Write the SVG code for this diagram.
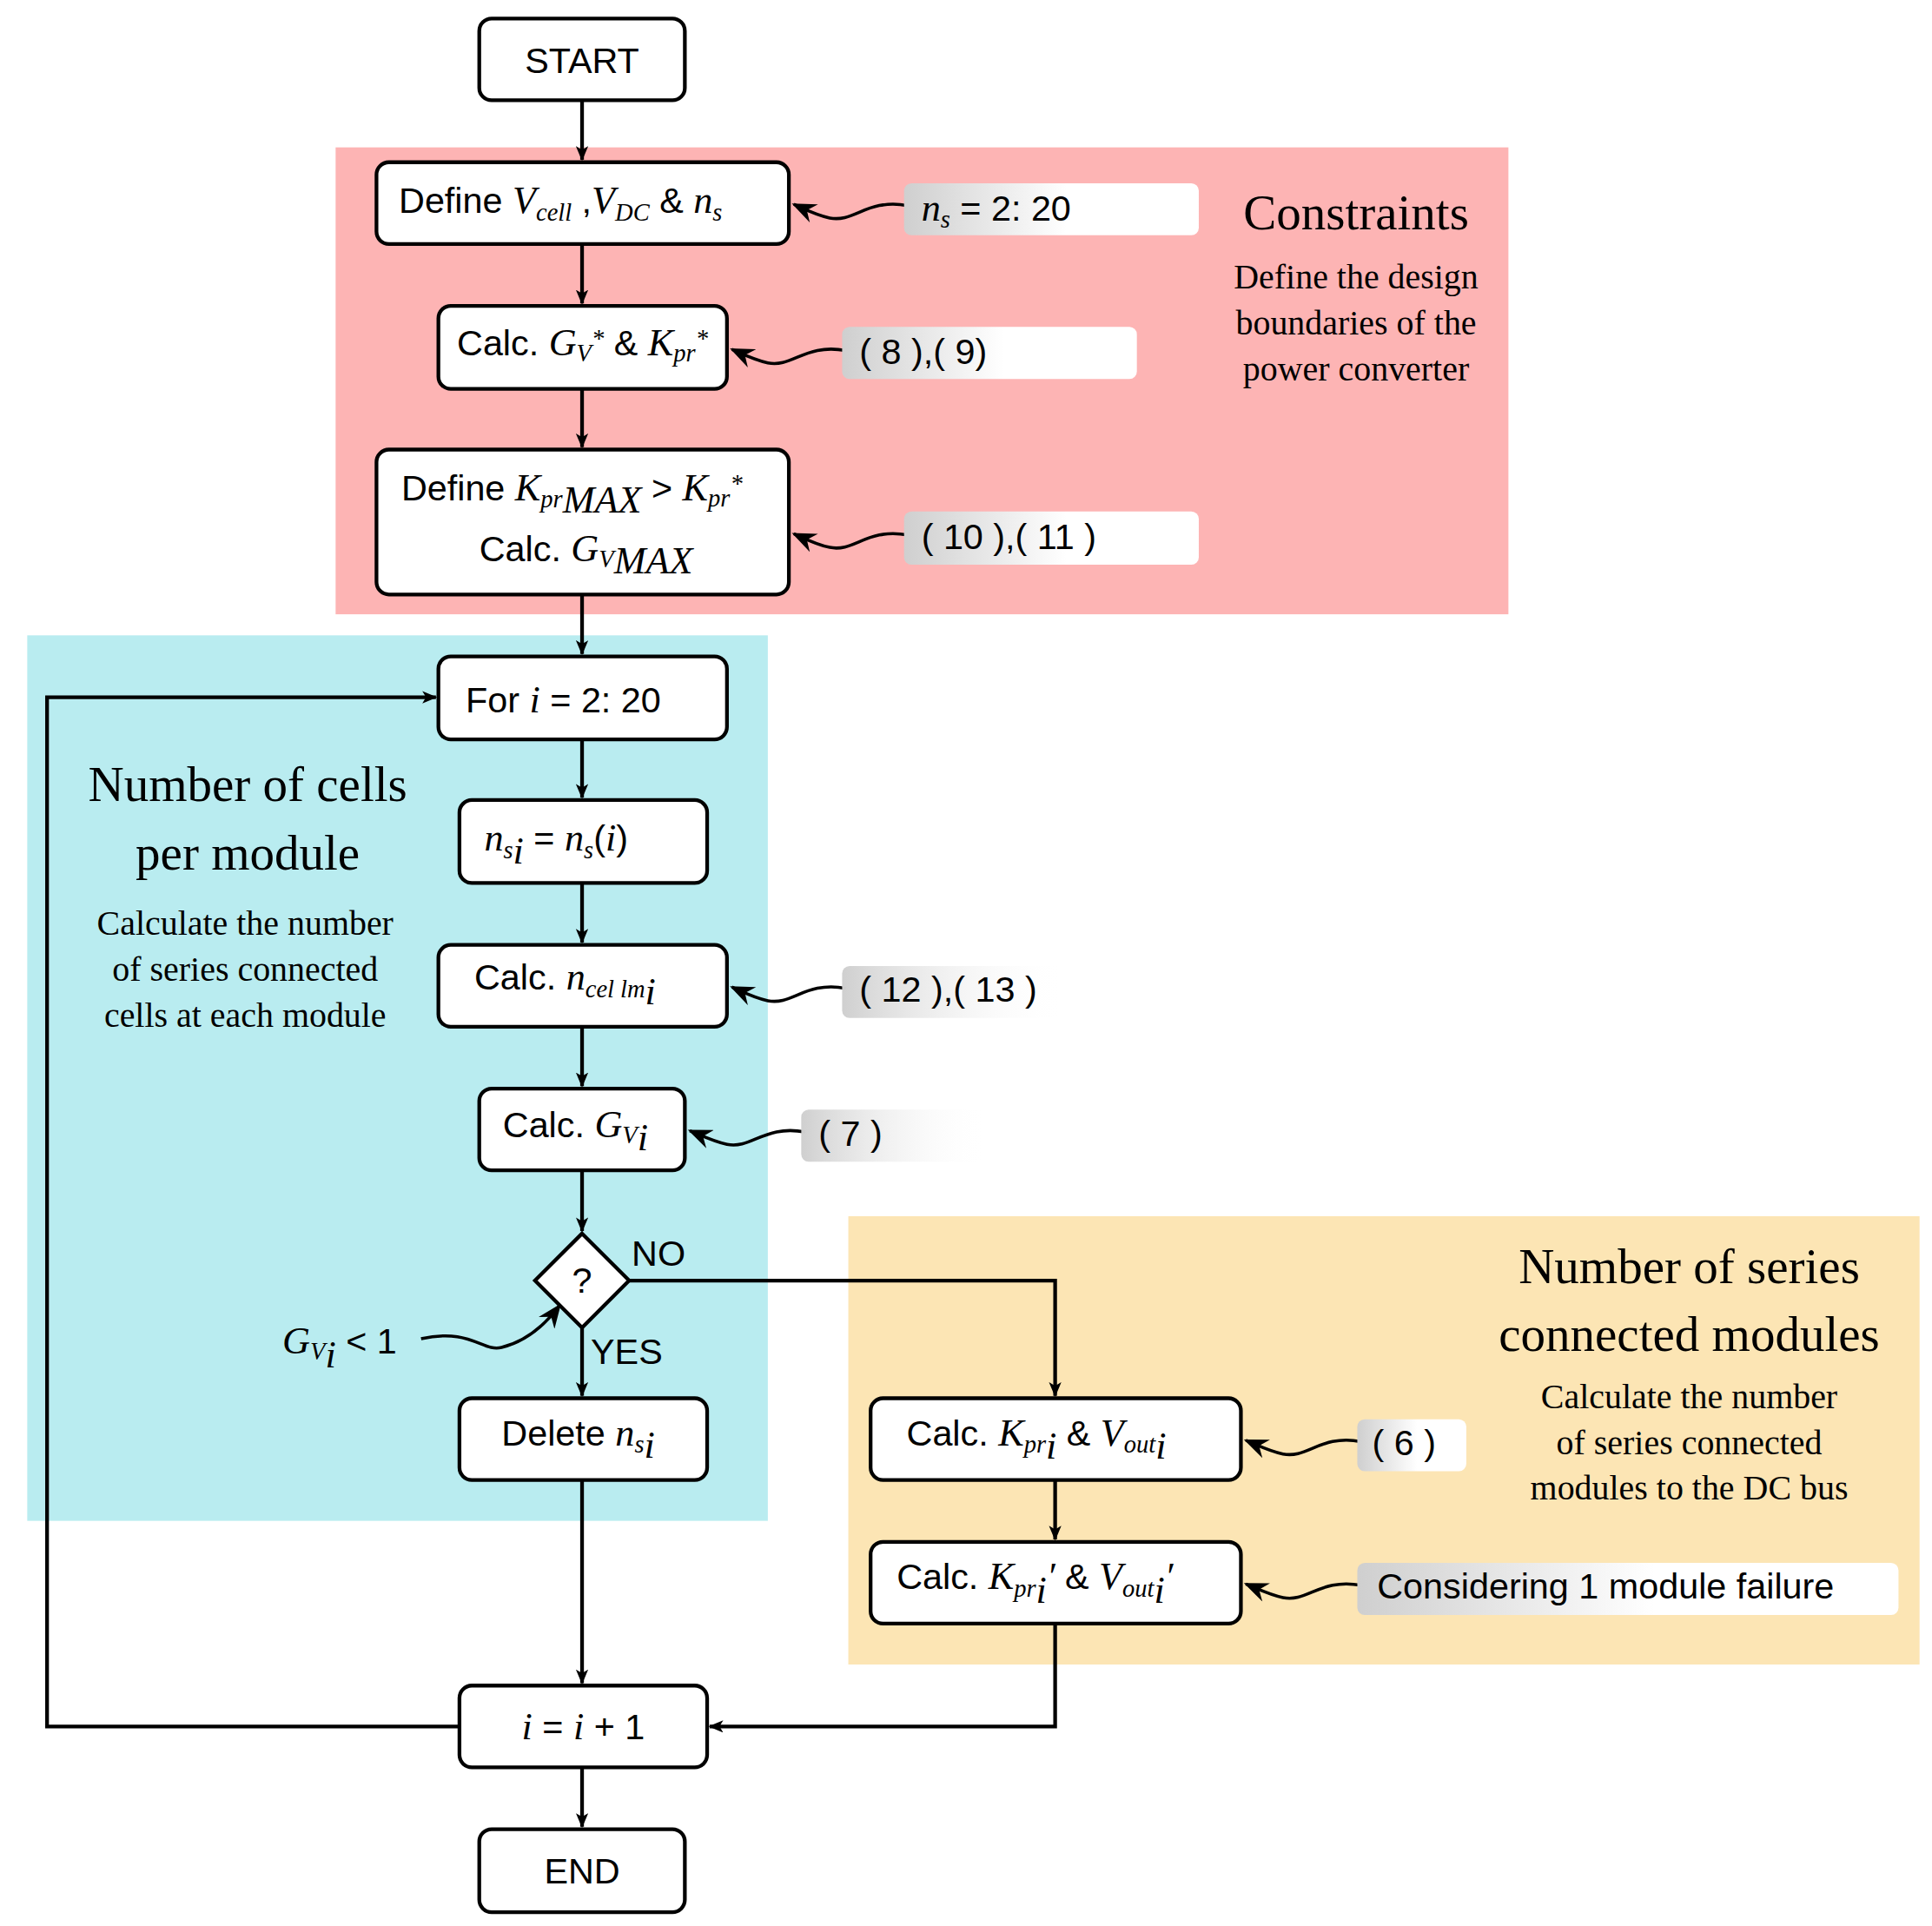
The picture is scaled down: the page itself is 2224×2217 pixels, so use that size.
<svg xmlns="http://www.w3.org/2000/svg" width="2224" height="2217" viewBox="0 0 2224 2217">
<defs>
<linearGradient id="g" x1="0" x2="1" y1="0" y2="0"><stop offset="0" stop-color="#cfcfcf"/><stop offset="0.55" stop-color="#ffffff"/><stop offset="1" stop-color="#ffffff"/></linearGradient>
<linearGradient id="g2" x1="0" x2="1" y1="0" y2="0"><stop offset="0" stop-color="#cfcfcf"/><stop offset="1" stop-color="#ffffff" stop-opacity="0"/></linearGradient>
<marker id="a" markerWidth="12" markerHeight="10" refX="11" refY="5" orient="auto" markerUnits="userSpaceOnUse"><path d="M0,0 L12,5 L0,10 L3,5 Z" fill="#000"/></marker>
<marker id="c" viewBox="0 0 22 18" markerWidth="20" markerHeight="16" refX="20" refY="9" orient="auto" markerUnits="userSpaceOnUse"><path d="M0,0 L22,9 L0,18 L7,9 Z" fill="#000"/></marker>
</defs>
<style>
.b{fill:#fff;stroke:#000;stroke-width:3}
.t{font-family:"Liberation Sans",Arial,sans-serif;font-size:29px;fill:#000}
.m{font-family:"Liberation Serif",serif;font-style:italic;font-size:31px}
.s{font-size:20px}
.h{font-family:"Liberation Serif",serif;font-size:40px;fill:#000;text-anchor:middle}
.p{font-family:"Liberation Serif",serif;font-size:28px;fill:#000;text-anchor:middle}
.ln{fill:none;stroke:#000;stroke-width:3}
.cv{fill:none;stroke:#000;stroke-width:2.5}
</style>
<rect width="2224" height="2217" fill="#fff"/>
<g transform="scale(1.4256)">
<g id="backgrounds">
<rect x="271" y="119" width="947" height="377" fill="#FDB4B4"/>
<rect x="22" y="513" width="598" height="715" fill="#B9ECF0"/>
<rect x="685" y="982" width="865" height="362" fill="#FCE5B4"/>
</g>
<g id="titles">
<text class="h" x="1095" y="185">Constraints</text>
<text class="p" x="1095" y="233">Define the design</text>
<text class="p" x="1095" y="270">boundaries of the</text>
<text class="p" x="1095" y="307">power converter</text>
<text class="h" x="200" y="647">Number of cells</text>
<text class="h" x="200" y="702">per module</text>
<text class="p" x="198" y="755">Calculate the number</text>
<text class="p" x="198" y="792">of series connected</text>
<text class="p" x="198" y="829">cells at each module</text>
<text class="h" x="1364" y="1036">Number of series</text>
<text class="h" x="1364" y="1091">connected modules</text>
<text class="p" x="1364" y="1137">Calculate the number</text>
<text class="p" x="1364" y="1174">of series connected</text>
<text class="p" x="1364" y="1211">modules to the DC bus</text>
</g>
<g id="connectors">
<path class="ln" d="M470,81 V129" marker-end="url(#a)"/>
<path class="ln" d="M470,197 V245" marker-end="url(#a)"/>
<path class="ln" d="M470,314 V361" marker-end="url(#a)"/>
<path class="ln" d="M470,480 V528" marker-end="url(#a)"/>
<path class="ln" d="M470,597 V644" marker-end="url(#a)"/>
<path class="ln" d="M470,713 V761" marker-end="url(#a)"/>
<path class="ln" d="M470,829 V877" marker-end="url(#a)"/>
<path class="ln" d="M470,945 V994" marker-end="url(#a)"/>
<path class="ln" d="M470,1072 V1127" marker-end="url(#a)"/>
<path class="ln" d="M470,1195 V1359" marker-end="url(#a)"/>
<path class="ln" d="M470,1427 V1475" marker-end="url(#a)"/>
<path class="ln" d="M508,1034 H852 V1127" marker-end="url(#a)"/>
<path class="ln" d="M852,1195 V1243" marker-end="url(#a)"/>
<path class="ln" d="M852,1311 V1394 H573" marker-end="url(#a)"/>
<path class="ln" d="M371,1394 H38 V563 H352" marker-end="url(#a)"/>
<path class="cv" d="M733,166 C700,160 690,180 670,176 C660,174 652,170 641,165" marker-end="url(#c)"/>
<path class="cv" d="M683,283 C650,277 640,297 620,293 C610,291 602,287 591,282" marker-end="url(#c)"/>
<path class="cv" d="M733,432 C700,426 690,446 670,442 C660,440 652,436 641,431" marker-end="url(#c)"/>
<path class="cv" d="M683,798 C650,792 640,812 620,808 C610,806 602,802 591,797" marker-end="url(#c)"/>
<path class="cv" d="M650,914 C617,908 607,928 587,924 C577,922 569,918 557,913" marker-end="url(#c)"/>
<path class="cv" d="M1099,1164 C1066,1158 1056,1178 1036,1174 C1026,1172 1018,1168 1006,1163" marker-end="url(#c)"/>
<path class="cv" d="M1099,1280 C1066,1274 1056,1294 1036,1290 C1026,1288 1018,1284 1006,1279" marker-end="url(#c)"/>
<path class="cv" d="M340,1081 C380,1072 390,1092 405,1088 C425,1083 440,1070 452,1054" marker-end="url(#c)"/>
</g>
<g id="labels">
<rect x="730" y="148" width="238" height="42" rx="6" fill="url(#g)"/>
<text class="t" x="744" y="178"><tspan class="m">n</tspan><tspan class="m s" dy="6">s</tspan><tspan dy="-6">  =   2: 20</tspan></text>
<rect x="680" y="264" width="238" height="42" rx="6" fill="url(#g)"/>
<text class="t" x="694" y="294">( 8 ),( 9)</text>
<rect x="730" y="413" width="238" height="43" rx="6" fill="url(#g)"/>
<text class="t" x="744" y="443">( 10 ),( 11 )</text>
<rect x="680" y="780" width="180" height="42" rx="6" fill="url(#g2)"/>
<text class="t" x="694" y="809">( 12 ),( 13 )</text>
<rect x="647" y="896" width="150" height="42" rx="6" fill="url(#g2)"/>
<text class="t" x="661" y="925">( 7 )</text>
<rect x="1096" y="1146" width="88" height="42" rx="6" fill="url(#g)"/>
<text class="t" x="1108" y="1175">( 6 )</text>
<rect x="1096" y="1262" width="437" height="42" rx="6" fill="url(#g)"/>
<text class="t" x="1112" y="1291">Considering 1 module failure</text>
<text class="t" x="228" y="1093"><tspan class="m">G</tspan><tspan class="m s" dy="5">V</tspan><tspan class="m" font-size="15" dy="6">i</tspan><tspan dy="-11">  &lt; 1</tspan></text>
<text class="t" x="510" y="1022">NO</text>
<text class="t" x="477" y="1101">YES</text>
</g>
<g id="start"><rect class="b" x="387" y="15" width="166" height="66" rx="10"/><text class="t" x="470" y="59" text-anchor="middle">START</text></g>
<g id="define1"><rect class="b" x="304" y="131" width="333" height="66" rx="10"/><text class="t" x="322" y="172">Define <tspan class="m">V</tspan><tspan class="m s" dy="6">cell</tspan><tspan dy="-6">  ,</tspan><tspan class="m">V</tspan><tspan class="m s" dy="6">DC</tspan><tspan dy="-6"> &amp; </tspan><tspan class="m">n</tspan><tspan class="m s" dy="6">s</tspan></text></g>
<g id="calcG"><rect class="b" x="354" y="247" width="233" height="67" rx="10"/><text class="t" x="369" y="287">Calc. <tspan class="m">G</tspan><tspan class="m s" dy="5">V</tspan><tspan class="m s" dy="-12">*</tspan><tspan dy="7"> &amp; </tspan><tspan class="m">K</tspan><tspan class="m s" dy="5">pr</tspan><tspan class="m s" dy="-12">*</tspan></text></g>
<g id="defineK"><rect class="b" x="304" y="363" width="333" height="117" rx="10"/>
<text class="t" x="324" y="404">Define <tspan class="m">K</tspan><tspan class="m s" dy="6">pr</tspan><tspan class="m" font-size="15" dy="4">MAX</tspan><tspan dy="-10">  &gt; </tspan><tspan class="m">K</tspan><tspan class="m s" dy="5">pr</tspan><tspan class="m s" dy="-12">*</tspan></text>
<text class="t" x="387" y="453">Calc. <tspan class="m">G</tspan><tspan class="m s" dy="5">V</tspan><tspan class="m" font-size="15" dy="5">MAX</tspan></text></g>
<g id="for"><rect class="b" x="354" y="530" width="233" height="67" rx="10"/><text class="t" x="376" y="575">For <tspan class="m">i</tspan>  =   2: 20</text></g>
<g id="nsi"><rect class="b" x="371" y="646" width="200" height="67" rx="10"/><text class="t" x="391" y="687"><tspan class="m">n</tspan><tspan class="m s" dy="6">s</tspan><tspan class="m" font-size="15" dy="4">i</tspan><tspan dy="-10">   =   </tspan><tspan class="m">n</tspan><tspan class="m s" dy="6">s</tspan><tspan dy="-6">(</tspan><tspan class="m">i</tspan>)</text></g>
<g id="calcN"><rect class="b" x="354" y="763" width="233" height="66" rx="10"/><text class="t" x="383" y="799">Calc. <tspan class="m">n</tspan><tspan class="m s" dy="6">cel l</tspan><tspan class="m s" dy="0">m</tspan><tspan class="m" font-size="15" dy="6">i</tspan></text></g>
<g id="calcGV"><rect class="b" x="387" y="879" width="166" height="66" rx="10"/><text class="t" x="406" y="918">Calc. <tspan class="m">G</tspan><tspan class="m s" dy="5">V</tspan><tspan class="m" font-size="15" dy="6">i</tspan></text></g>
<g id="decision"><path class="b" d="M470,996 L508,1034 L470,1072 L432,1034 Z"/><text class="t" x="470" y="1044" text-anchor="middle">?</text></g>
<g id="delete"><rect class="b" x="371" y="1129" width="200" height="66" rx="10"/><text class="t" x="405" y="1167">Delete <tspan class="m">n</tspan><tspan class="m s" dy="6">s</tspan><tspan class="m" font-size="15" dy="4">i</tspan></text></g>
<g id="calcKp"><rect class="b" x="703" y="1129" width="299" height="66" rx="10"/><text class="t" x="732" y="1167">Calc. <tspan class="m">K</tspan><tspan class="m s" dy="6">pr</tspan><tspan class="m" font-size="15" dy="5">i</tspan><tspan dy="-11">  &amp; </tspan><tspan class="m">V</tspan><tspan class="m s" dy="6">out</tspan><tspan class="m" font-size="15" dy="5">i</tspan></text></g>
<g id="calcKp2"><rect class="b" x="703" y="1245" width="299" height="66" rx="10"/><text class="t" x="724" y="1283">Calc. <tspan class="m">K</tspan><tspan class="m s" dy="6">pr</tspan><tspan class="m" font-size="15" dy="5">i</tspan><tspan class="m" dy="-11">′</tspan> &amp; <tspan class="m">V</tspan><tspan class="m s" dy="6">out</tspan><tspan class="m" font-size="15" dy="5">i</tspan><tspan class="m" dy="-11">′</tspan></text></g>
<g id="incr"><rect class="b" x="371" y="1361" width="200" height="66" rx="10"/><text class="t" x="471" y="1404" text-anchor="middle"><tspan class="m">i</tspan>   =   <tspan class="m">i</tspan>  +  1</text></g>
<g id="end"><rect class="b" x="387" y="1477" width="166" height="67" rx="10"/><text class="t" x="470" y="1521" text-anchor="middle">END</text></g>
</g>
</svg>
